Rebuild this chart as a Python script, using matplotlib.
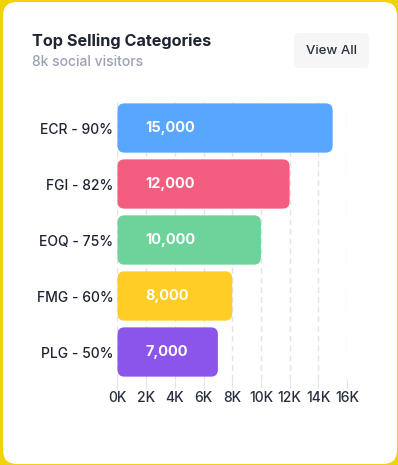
import matplotlib
matplotlib.use("Agg")
import matplotlib.pyplot as plt
from matplotlib.patches import FancyBboxPatch

categories = ["ECR - 90%", "FGI - 82%", "EOQ - 75%", "FMG - 60%", "PLG - 50%"]
values = [15000, 12000, 10000, 8000, 7000]
value_labels = ["15,000", "12,000", "10,000", "8,000", "7,000"]
colors = ["#58a6ff", "#f35e80", "#6dd39b", "#ffcd25", "#8b55ec"]
xticks = [0, 2000, 4000, 6000, 8000, 10000, 12000, 14000, 16000]
xtick_labels = ["0K", "2K", "4K", "6K", "8K", "10K", "12K", "14K", "16K"]

plt.rcParams['font.family'] = ['Inter', 'DejaVu Sans']
W, H = 398, 465
fig = plt.figure(figsize=(W / 100, H / 100), dpi=100)
fig.patch.set_facecolor("#f1d20b")

# card background
card = FancyBboxPatch((3 / W, 1 / H), (W - 4) / W, (H - 3) / H,
                      boxstyle="round,pad=0,rounding_size=0.035",
                      mutation_aspect=W / H,
                      transform=fig.transFigure, facecolor="white",
                      edgecolor="none", zorder=-2)
fig.patches.append(card)

# title texts
fig.text(32 / W, 1 - 41 / H, "Top Selling Categories", fontsize=11.7,
         fontweight="bold", color="#1f2433", va="center", ha="left")
fig.text(32 / W, 1 - 62 / H, "8k social visitors", fontsize=10,
         fontweight="medium", color="#9ba1b5", va="center", ha="left")
btn = FancyBboxPatch((294 / W, 1 - 68 / H), 75 / W, 35 / H,
                     boxstyle="round,pad=0,rounding_size=0.012",
                     mutation_aspect=W / H,
                     transform=fig.transFigure, facecolor="#f6f6f7",
                     edgecolor="none", zorder=-1)
fig.patches.append(btn)
fig.text(331 / W, 1 - 50.5 / H, "View All", fontsize=9.5, color="#2a2f3d",
         fontweight="medium", va="center", ha="center")

ax = fig.add_axes([117.5 / W, 1 - 380 / H, (347 - 117.5) / W, 280 / H])
ax.set_facecolor("none")
ypos = list(range(len(categories)))
bars = ax.barh(ypos, values, height=0.88, color=colors, alpha=0)
ax.set_xlim(0, 16000)
ax.set_ylim(4.5, -0.5)

rx = 480
ry = 0.125
for b, c in zip(bars, colors):
    x0, y0, w, h = b.get_x(), b.get_y(), b.get_width(), b.get_height()
    p = FancyBboxPatch((x0, y0), w, h,
                       boxstyle=f"round,pad=0,rounding_size={rx}",
                       mutation_aspect=ry / rx, facecolor=c,
                       edgecolor="none", zorder=3)
    ax.add_patch(p)

for y, lab in zip(ypos, value_labels):
    ax.text(1950, y, lab, color="white", fontsize=10.5, fontweight="bold",
            va="center", ha="left", zorder=4)

ax.set_xticks(xticks)
ax.set_xticklabels(xtick_labels, fontweight="medium")
ax.set_yticks(ypos)
ax.set_yticklabels(categories, fontweight="medium")
ax.tick_params(axis="x", length=6, color="#e3e3e8", labelsize=10,
               labelcolor="#2a3040", pad=2)
ax.tick_params(axis="y", length=0, labelsize=10, labelcolor="#1f2433", pad=3)
ax.grid(axis="x", color="#e2e2e8", linestyle=(0, (4, 3)), linewidth=1, zorder=0)
ax.set_axisbelow(True)
for s in ax.spines.values():
    s.set_visible(False)

fig.savefig("out.png", dpi=100, facecolor=fig.get_facecolor())
